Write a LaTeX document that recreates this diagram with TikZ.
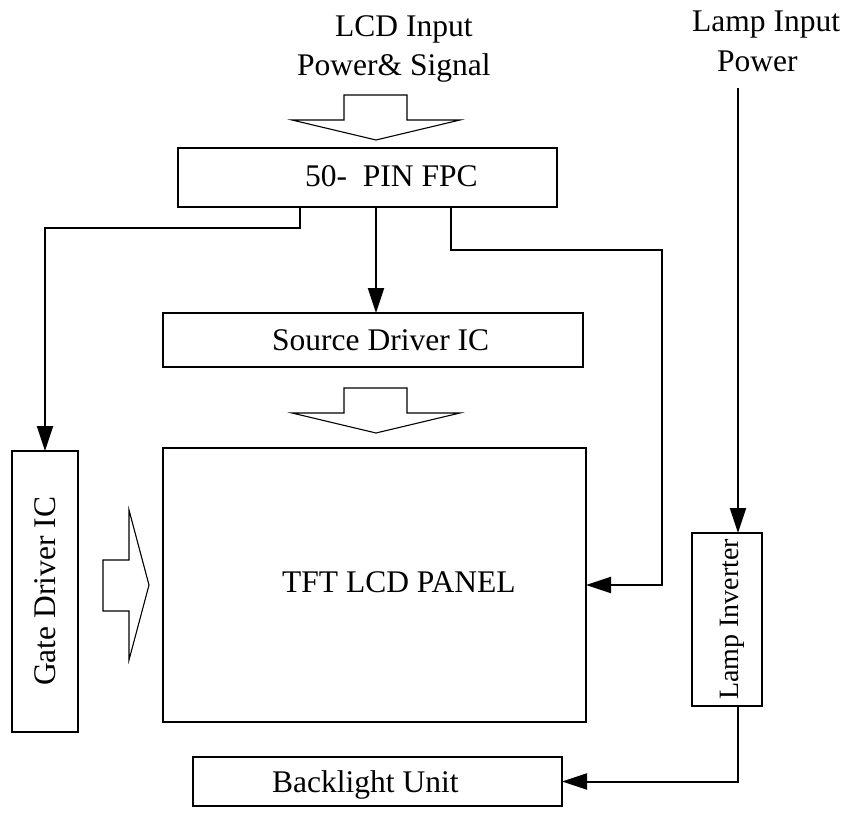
\documentclass[tikz,border=0pt]{standalone}
\usepackage{fontspec}
\setmainfont{Liberation Serif}
\usetikzlibrary{arrows.meta}
\begin{document}
\begin{tikzpicture}[x=1pt,y=-1pt,
  box/.style={draw,line width=2pt,inner sep=0pt,outer sep=0pt},
  conn/.style={line width=2pt,-{Triangle[length=25pt,width=16pt]}},
  blk/.style={draw,line width=1.1pt,line join=miter},
  lbl/.style={font=\fontsize{31.5}{36}\selectfont,inner sep=0pt}]
\useasboundingbox (0,0) rectangle (846,813);
% boxes
\node[box,minimum width=379pt,minimum height=59pt] (fpc) at (367.5,177.5) {};
\node[box,minimum width=420pt,minimum height=54pt] (src) at (373,340) {};
\node[box,minimum width=423pt,minimum height=274pt] (panel) at (374.5,585) {};
\node[box,minimum width=66pt,minimum height=281pt] (gate) at (45,591.5) {};
\node[box,minimum width=70pt,minimum height=173pt] (lamp) at (727,619.5) {};
\node[box,minimum width=369pt,minimum height=49pt] (back) at (377.5,781.5) {};
% texts
\node[lbl,anchor=base west] (t1) at (335,37) {LCD Input};
\node[lbl,anchor=base west] (t2) at (297,76) {Power\& Signal};
\node[lbl,anchor=base west] (t3) at (692,32) {Lamp Input};
\node[lbl,anchor=base west] (t4) at (717,72) {Power};
\node[lbl,anchor=base west] (tf) at (305,187) {50-~~PIN FPC};
\node[lbl,anchor=base west] (ts) at (272,350) {Source Driver IC};
\node[lbl,anchor=base west] (tp) at (282,592) {TFT LCD PANEL};
\node[lbl,anchor=base west] (tb) at (272,792) {Backlight Unit};
\node[lbl,rotate=90,anchor=base west] (tg) at (55,686) {Gate Driver IC};
\node[lbl,font=\fontsize{28}{32}\selectfont,rotate=90,anchor=base west] (tl) at (738,700) {Lamp Inverter};
% block arrows
\draw[blk] (344,95) -- (407,95) -- (407,120) -- (460,120) -- (376,140) -- (292,120) -- (344,120) -- cycle;
\draw[blk] (344,388) -- (407,388) -- (407,413) -- (460,413) -- (376,433) -- (292,413) -- (344,413) -- cycle;
\draw[blk] (103,560) -- (129,560) -- (129,510) -- (149,585) -- (129,660) -- (129,611) -- (103,611) -- cycle;
% connectors
\coordinate (lampin) at (738,88);
\draw[conn] (lampin) -- (lamp.north -| lampin);
\draw[conn] (fpc.south -| 300,0) -- (300,228) -| (gate.north);
\draw[conn] (fpc.south -| 376,0) -- (src.north -| 376,0);
\draw[conn] (fpc.south -| 451,0) -- (451,250) -| (662,585) -- (panel.east |- 0,585);
\draw[conn] (lamp.south -| lampin) |- (back.east);
\end{tikzpicture}
\end{document}
